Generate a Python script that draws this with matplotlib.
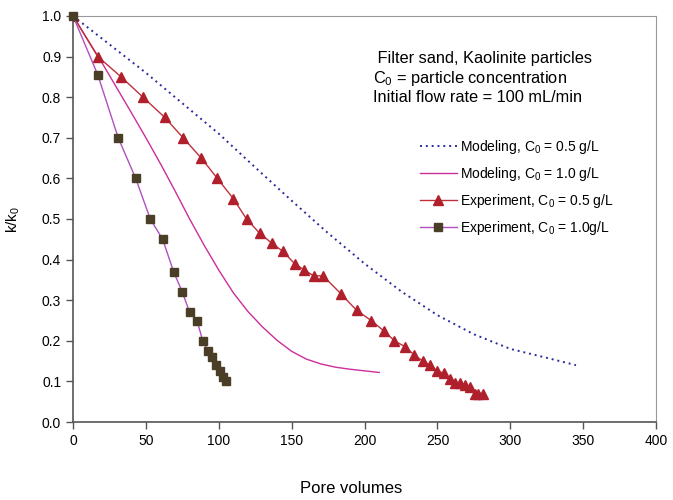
import matplotlib.pyplot as plt

plt.rcParams['font.family'] = ['Liberation Sans', 'DejaVu Sans']
plt.rcParams['mathtext.fontset'] = 'custom'
plt.rcParams['mathtext.rm'] = 'Liberation Sans'
plt.rcParams['mathtext.it'] = 'Liberation Sans:italic'

# modeling curves
mod05_x = [0, 25, 50, 75, 100, 125, 150, 175, 200, 225, 250, 275, 300, 325, 345]
mod05_y = [1.0, 0.93, 0.86, 0.785, 0.71, 0.627, 0.545, 0.465, 0.39, 0.322, 0.263, 0.216, 0.18, 0.158, 0.14]
mod10_x = [0, 10, 20, 30, 40, 50, 60, 70, 80, 90, 100, 110, 120, 130, 140, 150, 160, 170, 180, 190, 200, 210]
mod10_y = [1.0, 0.942, 0.884, 0.823, 0.762, 0.70, 0.636, 0.569, 0.50, 0.435, 0.374, 0.318, 0.272, 0.234,
           0.201, 0.174, 0.155, 0.143, 0.135, 0.13, 0.126, 0.122]

# experiments
exp05_x = [0, 17, 33, 48, 63, 75.5, 88, 99, 110, 119, 128, 136.5, 144, 152, 158.5, 165, 171.5,
           184, 194.5, 204.5, 213, 220.5, 228, 234, 240, 245, 250, 254.5, 258.5, 262, 265.5,
           269, 272, 275.5, 278, 281]
exp05_y = [1.0, 0.9, 0.85, 0.8, 0.75, 0.7, 0.65, 0.6, 0.55, 0.5, 0.465, 0.44, 0.42, 0.39, 0.375, 0.36, 0.36,
           0.315, 0.275, 0.25, 0.225, 0.2, 0.185, 0.165, 0.15, 0.14, 0.125, 0.12, 0.105, 0.095, 0.095,
           0.09, 0.085, 0.07, 0.07, 0.07]
exp10_x = [0, 17, 31, 43, 53, 61.5, 69, 75, 80, 85, 89, 92.5, 95.5, 98, 101, 103, 105]
exp10_y = [1.0, 0.855, 0.70, 0.60, 0.50, 0.45, 0.37, 0.32, 0.27, 0.25, 0.20, 0.175, 0.16, 0.14, 0.125, 0.11, 0.10]

fig = plt.figure(figsize=(6.73, 5), dpi=100)
ax = fig.add_axes([0.1085, 0.156, 0.8665, 0.812])

ax.plot(mod05_x, mod05_y, color='#2b2b9c', linestyle=(0, (1.0, 2.0)), linewidth=1.4,
        label=r'Modeling, C$_0$ = 0.5 g/L')
ax.plot(mod10_x, mod10_y, color='#cc2e9a', linewidth=1.0, label=r'Modeling, C$_0$ = 1.0 g/L')
ax.plot(exp05_x, exp05_y, color='#c0303a', linewidth=1.0, marker='^', markersize=6.5,
        markerfacecolor='#b0202c', markeredgecolor='#b0202c', label=r'Experiment, C$_0$ = 0.5 g/L')
ax.plot(exp10_x, exp10_y, color='#b050c0', linewidth=1.0, marker='s', markersize=6,
        markerfacecolor='#4a3f26', markeredgecolor='#4a3f26', label=r'Experiment, C$_0$ = 1.0g/L',
        clip_on=False, zorder=5)

ax.set_xlim(0, 400)
ax.set_ylim(0, 1.0)
ax.set_xticks(range(0, 401, 50))
ax.set_yticks([i / 10 for i in range(11)])
ax.set_yticklabels(['%.1f' % (i / 10) for i in range(11)])
ax.tick_params(direction='out', length=5, width=1, colors='#555555', labelcolor='black', labelsize=10)
for s in ['left', 'bottom']:
    ax.spines[s].set_color('#555555')
    ax.spines[s].set_linewidth(1.2)
for s in ['top', 'right']:
    ax.spines[s].set_color('#999999')
    ax.spines[s].set_linewidth(0.8)

ax.set_xlabel('Pore volumes', fontsize=12)
ax.xaxis.set_label_coords(0.477, -0.145)
ax.set_ylabel(r'k/k$_0$', fontsize=11, labelpad=14)

ax.text(0.515, 0.915, ' Filter sand, Kaolinite particles\nC$_0$ = particle concentration\nInitial flow rate = 100 mL/min',
        transform=ax.transAxes, fontsize=11.8, va='top', ha='left', linespacing=1.22)

ax.legend(loc='upper left', bbox_to_anchor=(0.573, 0.73), frameon=False, fontsize=10,
          handlelength=2.7, handletextpad=0.2, labelspacing=0.65)

fig.savefig('out.png', dpi=100)
